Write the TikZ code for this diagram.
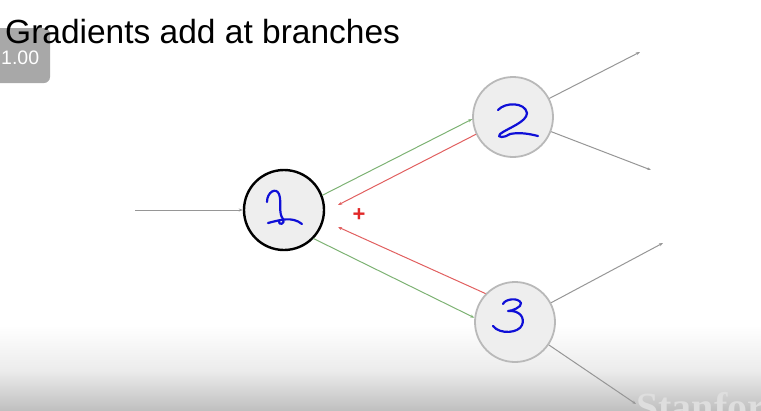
\documentclass[tikz,border=0pt]{standalone}
\usepackage{fontspec}
\setmainfont{Liberation Sans}
\newfontfamily\wmfont{Liberation Serif}
\usetikzlibrary{arrows.meta,calc}
\definecolor{nodefill}{RGB}{238,238,238}
\definecolor{nodegray}{RGB}{185,185,185}
\definecolor{wire}{RGB}{150,150,150}
\definecolor{fwd}{RGB}{125,178,115}
\definecolor{bwd}{RGB}{225,95,95}
\definecolor{plusred}{RGB}{225,40,40}
\definecolor{ink}{RGB}{15,15,215}
\definecolor{badge}{RGB}{168,168,168}
\definecolor{shademid}{RGB}{236,236,236}
\definecolor{shadebot}{RGB}{192,192,192}
\definecolor{wmcol}{RGB}{222,222,222}

\begin{document}
\begin{tikzpicture}[x=1pt,y=-1pt,
  gate/.style={circle,minimum size=80pt,inner sep=0pt,fill=nodefill,
    draw=nodegray,line width=1.8pt},
  tip/.style={-{Stealth[length=4pt,width=3pt]}},
  wirearrow/.style={tip,draw=wire,line width=1pt},
  fwdarrow/.style={tip,draw=fwd,line width=1pt},
  bwdarrow/.style={tip,draw=bwd,line width=1pt},
  hand/.style={draw=ink,line width=2.2pt,line cap=round,line join=round}
]
\useasboundingbox (0,0) rectangle (761,410);

% soft grey band along the lower edge
\shade[top color=white,bottom color=shademid] (0,325) rectangle (761,370);
\shade[top color=shademid,bottom color=shadebot] (0,370) rectangle (761,410);
\begin{scope}
  \clip (0,0) rectangle (761,410);
  \node[anchor=north west,inner sep=0pt,text=wmcol,font=\wmfont\bfseries\fontsize{40}{40}\selectfont]
    (wm) at (636,392) {Stanford};
\end{scope}

% zoom badge and title
\fill[badge,rounded corners=6pt] (-10,28) rectangle (50,83);
\node[anchor=base west,inner sep=0pt,text=white,font=\fontsize{19.5}{20}\selectfont]
  (zoom) at (1,64) {1.00};
\node[anchor=base west,inner sep=0pt,font=\fontsize{33.5}{34}\selectfont]
  (title) at (5,43) {Gradients add at branches};

% gates
\node[gate,draw=black,line width=2.4pt] (n1) at (284,210) {};
\node[gate] (n2) at (513,117) {};
\node[gate] (n3) at (515,322) {};

% free ends of the wires
\coordinate (in) at (135,210);
\coordinate (o2a) at (640,52);
\coordinate (o2b) at (651,170);
\coordinate (o3a) at (663,243);
\coordinate (o3b) at (636,404);
\coordinate (r2) at (338,205);
\coordinate (r3) at (338,227);

% input and output wires
\draw[wirearrow] (in) -- (n1);
\draw[wirearrow] (n2) -- (o2a);
\draw[wirearrow] (n2) -- (o2b);
\draw[wirearrow] (n3) -- (o3a);
\draw[wirearrow] (n3) -- (o3b);

% forward values
\draw[fwdarrow] (n1.21) -- (n2.183);
\draw[fwdarrow] (n1.-44) -- (n3.174);

% gradients flowing back
\draw[bwdarrow] (n2.205) -- (r2);
\draw[bwdarrow] (n3.136) -- (r3);
\node[text=plusred,font=\bfseries\fontsize{22}{22}\selectfont,inner sep=0pt] (plus) at (359,215) {+};

% hand-written labels
\draw[hand] (267,202) .. controls (267,192) and (276,187) .. (279,194)
  .. controls (282,202) and (278,213) .. (283,219)
  .. controls (286,224) and (278,226) .. (279,221);
\draw[hand] (268,223) .. controls (280,220) and (292,216) .. (302,224);

\draw[hand] (498,110) .. controls (505,102) and (525,102) .. (527,113)
  .. controls (527,122) and (508,128) .. (500,134)
  .. controls (496,138) and (505,138) .. (510,134)
  .. controls (520,132) and (530,134) .. (538,136);

\draw[hand] (503,304) .. controls (505,299) and (518,297) .. (521,303)
  .. controls (522,307) and (512,311) .. (508,311)
  .. controls (520,310) and (525,318) .. (522,325)
  .. controls (519,333) and (500,335) .. (493,326);
\end{tikzpicture}
\end{document}
